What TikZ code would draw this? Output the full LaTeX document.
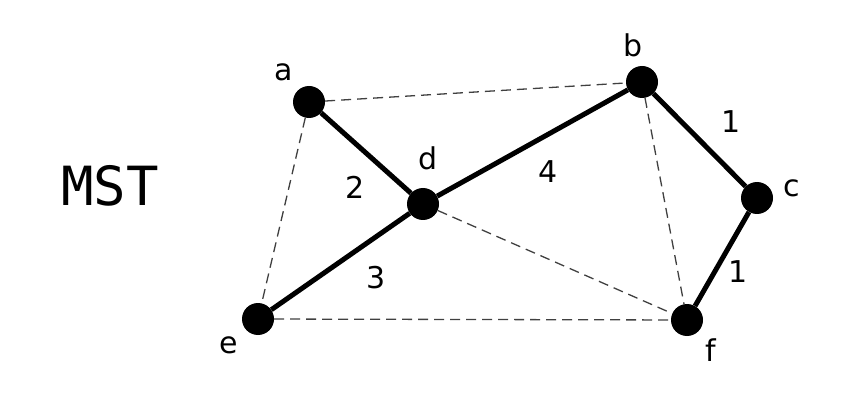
\documentclass[tikz,border=0pt]{standalone}
\usepackage{fontspec}
\setmainfont{DejaVu Sans}
\newfontfamily\monofont{DejaVu Sans Mono}
\begin{document}
\begin{tikzpicture}[x=1pt,y=-1pt,
  vertex/.style={circle,fill=black,inner sep=0pt,minimum size=32pt},
  lbl/.style={font=\fontsize{30}{32}\selectfont,inner sep=0pt},
  tree/.style={line width=5pt},
  other/.style={line width=1.3pt,draw=black!75,dash pattern=on 10pt off 6pt}]
\useasboundingbox (0,0) rectangle (854,406);
\node (a) [vertex] at (309,102) {};
\node (b) [vertex] at (642,82) {};
\node (c) [vertex] at (757,198) {};
\node (d) [vertex] at (423,204) {};
\node (e) [vertex] at (258,319) {};
\node (f) [vertex] at (687,320) {};
\draw[other] (a) -- (b);
\draw[other] (a) -- (e);
\draw[other] (e) -- (f);
\draw[other] (d) -- (f);
\draw[other] (b) -- (f);
\draw[tree] (a) -- (d);
\draw[tree] (d) -- (b);
\draw[tree] (b) -- (c);
\draw[tree] (c) -- (f);
\draw[tree] (d) -- (e);
\node (la) [lbl] at (284,72) {a};
\node (lb) [lbl] at (633,45) {b};
\node (lc) [lbl] at (792,188) {c};
\node (ld) [lbl] at (428,158) {d};
\node (le) [lbl] at (229,345) {e};
\node (lf) [lbl] at (711,350) {f};
\node (wbc) [lbl] at (731,122) {1};
\node (wcf) [lbl] at (738,272) {1};
\node (wad) [lbl] at (355,187) {2};
\node (wdb) [lbl] at (548,172) {4};
\node (wde) [lbl] at (376,278) {3};
\node (mst) [inner sep=0pt,font=\monofont\fontsize{54}{56}\selectfont] at (110,186) {MST};
\end{tikzpicture}
\end{document}
